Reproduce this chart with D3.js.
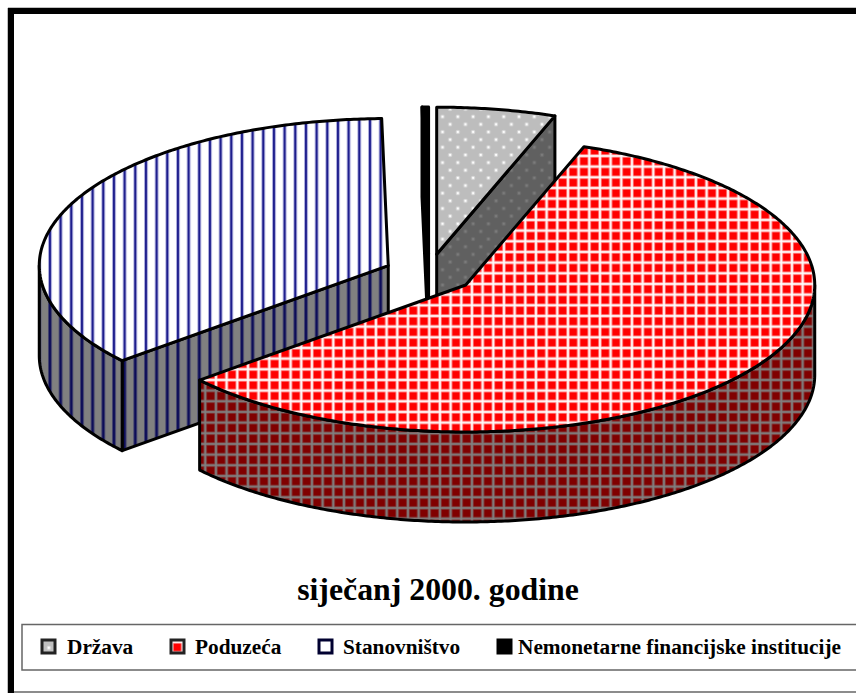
<!DOCTYPE html>
<html>
<head>
<meta charset="utf-8">
<title>siječanj 2000. godine</title>
<script src="https://cdn.jsdelivr.net/npm/d3@7"></script>
<style>
    body { margin: 0; background: #fff; }
    svg { display: block; }
    text { font-family: "Liberation Serif", serif; font-weight: bold; fill: #000; }
</style>
</head>
<body>
<script>
const chartTitle = 'siječanj 2000. godine';
const categories = ['Država', 'Poduzeća', 'Stanovništvo', 'Nemonetarne financijske institucije'];
const shares = [5.5, 58.3, 35.9, 0.3];

const width = 856, height = 693;
const centerX = 429, centerY = 273.7;
const rx = 349, ry = 147, depth = 90;
const explodeX = 44.7, explodeY = 19.8;

// top face and wall fill of each slice, in category order
const topFills = ['url(#dotsTop)', 'url(#gridTop)', 'url(#stripesTop)', '#000'];
const wallFills = ['url(#dotsWall)', 'url(#gridWall)', 'url(#stripesWall)', '#000'];
const swatchFills = ['url(#dotsSwatch)', 'url(#gridSwatch)', '#fff', '#000'];
const swatchX = [41, 170, 318, 497];
const labelX = [67, 195, 343, 518];

const svg = d3.select('body').append('svg')
    .attr('width', width)
    .attr('height', height);

const defs = svg.append('defs');

// dotted tile, staggered dots
function addDots(id, base, dot, halo, period, dx, dy) {
    let p = defs.append('pattern')
        .attr('id', id)
        .attr('patternUnits', 'userSpaceOnUse')
        .attr('width', period)
        .attr('height', period)
        .attr('patternTransform', `translate(${dx},${dy})`);
    p.append('rect').attr('width', period).attr('height', period).attr('fill', base);
    [[period / 4, period / 4], [period * 3 / 4, period * 3 / 4]].forEach(([x, y]) => {
        p.append('circle').attr('cx', x).attr('cy', y).attr('r', 2.2).attr('fill', halo);
        p.append('circle').attr('cx', x).attr('cy', y).attr('r', 1.1).attr('fill', dot);
    });
}

// square grid tile, line with a soft edge
function addGrid(id, base, line, halo, period, dx, dy) {
    let p = defs.append('pattern')
        .attr('id', id)
        .attr('patternUnits', 'userSpaceOnUse')
        .attr('width', period)
        .attr('height', period)
        .attr('patternTransform', `translate(${dx},${dy})`);
    p.append('rect').attr('width', period).attr('height', period).attr('fill', base);
    p.append('rect').attr('x', 0.4).attr('width', 3.2).attr('height', period).attr('fill', halo);
    p.append('rect').attr('y', 0.4).attr('width', period).attr('height', 3.2).attr('fill', halo);
    p.append('rect').attr('x', 1.2).attr('width', 1.6).attr('height', period).attr('fill', line);
    p.append('rect').attr('y', 1.2).attr('width', period).attr('height', 1.6).attr('fill', line);
}

// vertical stripes tile
function addStripes(id, base, line, halo, period, dx) {
    let p = defs.append('pattern')
        .attr('id', id)
        .attr('patternUnits', 'userSpaceOnUse')
        .attr('width', period)
        .attr('height', period)
        .attr('patternTransform', `translate(${dx},0)`);
    p.append('rect').attr('width', period).attr('height', period).attr('fill', base);
    p.append('rect').attr('x', 0).attr('width', 4).attr('height', period).attr('fill', halo);
    p.append('rect').attr('x', 1).attr('width', 2).attr('height', period).attr('fill', line);
}

addDots('dotsTop', '#bdbdbd', '#fff', '#d6d6d6', 15.3, 10.3, 5.8);
addDots('dotsWall', '#606060', '#7c7c7c', '#6c6c6c', 15.3, 10.3, 5.8);
addDots('dotsSwatch', '#c0c0c0', '#fff', '#dcdcdc', 15.3, 4, 4);
addGrid('gridTop', '#ff0000', '#fff', '#ffa0a0', 10.667, 0.6, 4.6);
addGrid('gridWall', '#800000', '#808080', '#804848', 10.667, 0.6, 4.6);
addGrid('gridSwatch', '#ff0000', '#fff', '#ffa0a0', 10.667, 0, 0);
addStripes('stripesTop', '#fff', '#1c1c8c', '#b4b4e0', 10.667, 5.3);
addStripes('stripesWall', '#808080', '#0c0c58', '#46466e', 10.667, 5.3);

// page frame: thick black on top and left, thin grey at the bottom
svg.append('path')
    .attr('d', `M${width},8H8V${height}`)
    .attr('fill', 'none')
    .attr('stroke', '#808080')
    .attr('stroke-width', 1);
svg.append('path')
    .attr('d', `M${width},11H11V${height}`)
    .attr('fill', 'none')
    .attr('stroke', '#000')
    .attr('stroke-width', 6);
svg.append('path')
    .attr('d', `M14,692H${width}`)
    .attr('stroke', '#666')
    .attr('stroke-width', 1.5);

const slices = d3.pie().sort(null).startAngle(0).endAngle(2 * Math.PI)(shares)
    .map((d, i) => {
        let mid = (d.startAngle + d.endAngle) / 2;
        return {
            start: d.startAngle,
            end: d.endAngle,
            index: i,
            cx: centerX + explodeX * Math.sin(mid),
            cy: centerY - explodeY * Math.cos(mid)
        };
    });

function rimPoint(s, angle, drop) {
    return [s.cx + rx * Math.sin(angle), s.cy - ry * Math.cos(angle) + drop];
}

function rimPoints(s, from, to, drop) {
    let steps = Math.max(2, Math.ceil((to - from) / 0.01));
    return d3.range(steps + 1).map(k => rimPoint(s, from + (to - from) * k / steps, drop));
}

const line = d3.line();
const pie3d = svg.append('g')
    .attr('stroke', '#000')
    .attr('stroke-width', 3)
    .attr('stroke-linejoin', 'round');

function cutFace(s, angle) {
    let rim = rimPoint(s, angle, 0);
    return line([[s.cx, s.cy], rim, [rim[0], rim[1] + depth], [s.cx, s.cy + depth]]) + 'Z';
}

// back to front: thin slice, Država, Stanovništvo, Poduzeća
[3, 0, 2, 1].forEach(i => {
    let s = slices[i];
    let g = pie3d.append('g');

    // a cut face is seen only when it turns towards the viewer
    if (s.start > Math.PI) {
        g.append('path').attr('d', cutFace(s, s.start)).attr('fill', wallFills[i]);
    }
    if (s.end > 0 && s.end < Math.PI) {
        g.append('path').attr('d', cutFace(s, s.end)).attr('fill', wallFills[i]);
    }

    // outer wall, front half of the rim only
    let from = Math.max(s.start, Math.PI / 2);
    let to = Math.min(s.end, Math.PI * 3 / 2);
    if (to > from) {
        let pts = rimPoints(s, from, to, 0).concat(rimPoints(s, from, to, depth).reverse());
        g.append('path').attr('d', line(pts) + 'Z').attr('fill', wallFills[i]);
    }

    let topPts = [[s.cx, s.cy]].concat(rimPoints(s, s.start, s.end, 0));
    g.append('path').attr('d', line(topPts) + 'Z').attr('fill', topFills[i]);
});

svg.append('text')
    .attr('x', 438)
    .attr('y', 600)
    .attr('text-anchor', 'middle')
    .attr('font-size', 31.8)
    .text(chartTitle);

// legend box runs off the right edge of the page
svg.append('path')
    .attr('d', `M${width + 2},624.5H22V670H${width + 2}`)
    .attr('fill', 'none')
    .attr('stroke', '#666')
    .attr('stroke-width', 1.5);

categories.forEach((name, i) => {
    let item = svg.append('g').attr('transform', `translate(${swatchX[i]},640)`);
    item.append('rect')
        .attr('x', 1)
        .attr('y', 0)
        .attr('width', 13)
        .attr('height', 13)
        .attr('fill', swatchFills[i])
        .attr('stroke', i === 2 ? '#000030' : (i === 3 ? '#000' : '#222'))
        .attr('stroke-width', 3);
    svg.append('text')
        .attr('x', labelX[i])
        .attr('y', 654)
        .attr('font-size', 21.3)
        .text(name);
});
</script>
</body>
</html>
